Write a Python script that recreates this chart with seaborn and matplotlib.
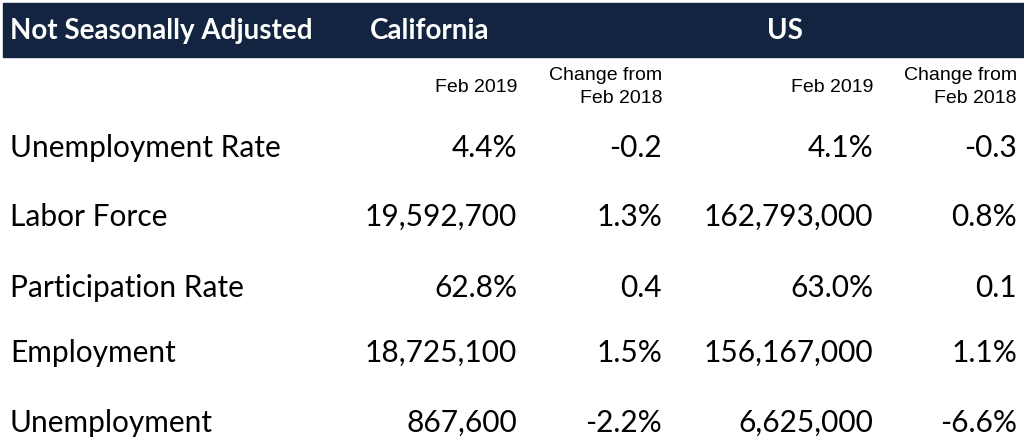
import matplotlib.pyplot as plt
import seaborn as sns
import pandas as pd

# table data
row_labels = ['Unemployment Rate', 'Labor Force', 'Participation Rate',
              'Employment', 'Unemployment']
ca_feb2019 = ['4.4%', '19,592,700', '62.8%', '18,725,100', '867,600']
ca_change = ['-0.2', '1.3%', '0.4', '1.5%', '-2.2%']
us_feb2019 = ['4.1%', '162,793,000', '63.0%', '156,167,000', '6,625,000']
us_change = ['-0.3', '0.8%', '0.1', '1.1%', '-6.6%']

header_title = 'Not Seasonally Adjusted'
regions = ['California', 'US']
sub_cols = ['Feb 2019', 'Change from\nFeb 2018']

sns.set_theme(style='white')
plt.rcParams['font.family'] = ['Lato', 'DejaVu Sans']

df = pd.DataFrame({
    'label': row_labels,
    'ca': ca_feb2019,
    'ca_chg': ca_change,
    'us': us_feb2019,
    'us_chg': us_change,
})

W, H = 1024, 447
fig = plt.figure(figsize=(W / 100, H / 100), dpi=100)
ax = fig.add_axes([0, 0, 1, 1])
ax.set_xlim(0, W)
ax.set_ylim(H, 0)
ax.axis('off')

navy = '#12243f'
ax.axhspan(3, 57, xmin=3 / W, xmax=1, color=navy, zorder=0)

hdr = dict(color='white', fontsize=20, fontweight='bold', va='center')
ax.text(10, 31, header_title, ha='left', **hdr)
ax.text(370, 31, regions[0], ha='left', **hdr)
ax.text(785, 31, regions[1], ha='center', **hdr)

# column right edges
col_x = [517, 662, 873, 1017]
sub_font = dict(fontsize=14, color='#000000', ha='right', va='center',
                family=['Liberation Sans', 'DejaVu Sans'], linespacing=1.5)
for i, x in enumerate(col_x):
    ax.text(x, 87, sub_cols[i % 2], **sub_font)

row_y = [148, 217, 288, 353, 423]
body = dict(fontsize=21.5, color='#000000', va='center')
cols = ['ca', 'ca_chg', 'us', 'us_chg']
for y, (_, r) in zip(row_y, df.iterrows()):
    ax.text(10, y, r['label'], ha='left', **body)
    for x, c in zip(col_x, cols):
        ax.text(x, y, r[c], ha='right', **body)

fig.savefig('out.png', dpi=100)
